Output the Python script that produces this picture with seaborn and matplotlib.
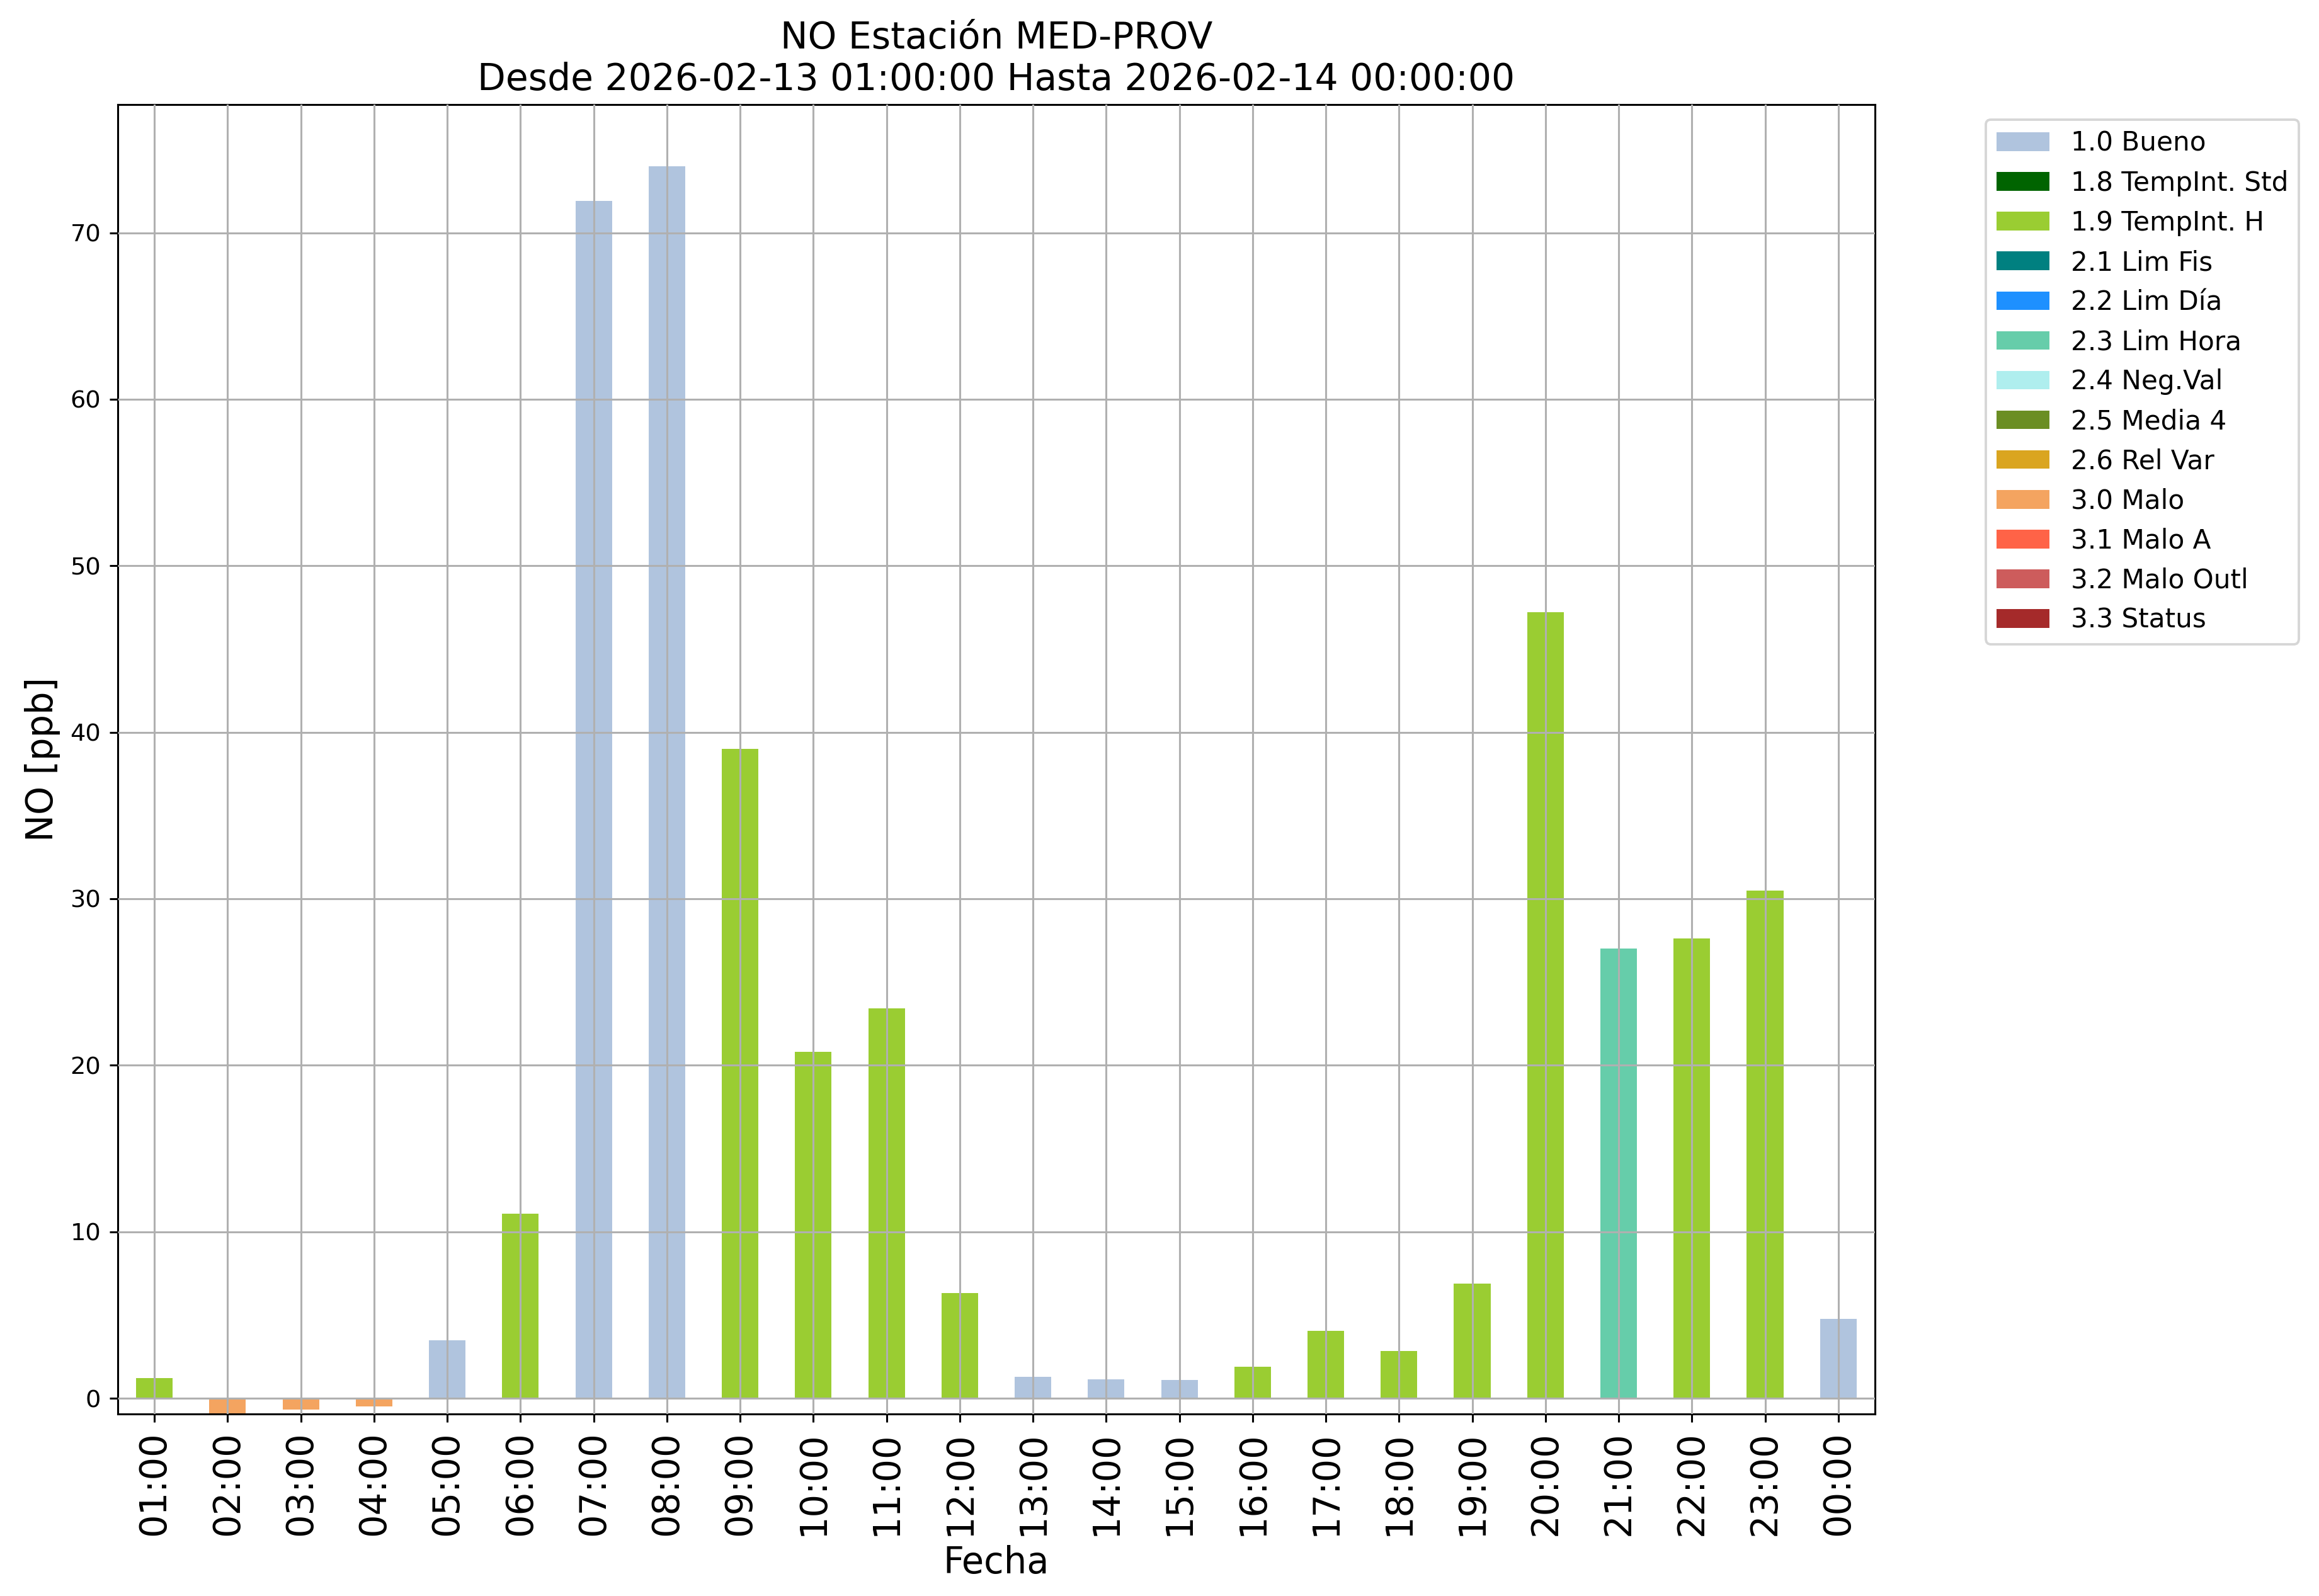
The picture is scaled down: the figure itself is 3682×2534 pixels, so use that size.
import matplotlib
matplotlib.use("Agg")
import matplotlib.pyplot as plt
from matplotlib.patches import Patch
import seaborn as sns
import pandas as pd

hours = ["01:00", "02:00", "03:00", "04:00", "05:00", "06:00", "07:00", "08:00",
         "09:00", "10:00", "11:00", "12:00", "13:00", "14:00", "15:00", "16:00",
         "17:00", "18:00", "19:00", "20:00", "21:00", "22:00", "23:00", "00:00"]
values = [1.22, -0.95, -0.67, -0.48, 3.49, 11.1, 71.9, 74.0,
          39.0, 20.8, 23.4, 6.3, 1.29, 1.13, 1.10, 1.89,
          4.05, 2.84, 6.89, 47.2, 27.0, 27.6, 30.5, 4.77]
flags = ["1.9 TempInt. H", "3.0 Malo", "3.0 Malo", "3.0 Malo", "1.0 Bueno", "1.9 TempInt. H",
         "1.0 Bueno", "1.0 Bueno", "1.9 TempInt. H", "1.9 TempInt. H", "1.9 TempInt. H",
         "1.9 TempInt. H", "1.0 Bueno", "1.0 Bueno", "1.0 Bueno", "1.9 TempInt. H",
         "1.9 TempInt. H", "1.9 TempInt. H", "1.9 TempInt. H", "1.9 TempInt. H",
         "2.3 Lim Hora", "1.9 TempInt. H", "1.9 TempInt. H", "1.0 Bueno"]

flag_labels = ["1.0 Bueno", "1.8 TempInt. Std", "1.9 TempInt. H", "2.1 Lim Fis",
               "2.2 Lim Día", "2.3 Lim Hora", "2.4 Neg.Val", "2.5 Media 4",
               "2.6 Rel Var", "3.0 Malo", "3.1 Malo A", "3.2 Malo Outl", "3.3 Status"]
flag_colors = ["lightsteelblue", "darkgreen", "yellowgreen", "teal", "dodgerblue",
               "mediumaquamarine", "paleturquoise", "olivedrab", "goldenrod",
               "sandybrown", "tomato", "indianred", "brown"]

title = "NO Estación MED-PROV\nDesde 2026-02-13 01:00:00 Hasta 2026-02-14 00:00:00"

df = pd.DataFrame({"Fecha": hours, "NO": values, "flag": flags})
palette = dict(zip(flag_labels, flag_colors))
present = [f for f in flag_labels if f in set(flags)]

DPI = 276
fig = plt.figure(figsize=(3682 / DPI, 2534 / DPI), dpi=DPI)
ax = fig.add_axes([0.0508, 0.1140, 0.8085 - 0.0508, 0.9345 - 0.1140])

sns.barplot(data=df, x="Fecha", y="NO", hue="flag", hue_order=present,
            palette=palette, order=hours, dodge=False, width=0.5,
            saturation=1, errorbar=None, legend=False, ax=ax)

ax.set_xlim(-0.5, len(hours) - 0.5)
ax.set_ylim(min(values), max(values) * 1.05)
ax.set_axisbelow(False)
ax.grid(True, color="#b0b0b0", linewidth=0.8)
ax.set_yticks(range(0, 80, 10))
ax.tick_params(axis="y", labelsize=10)
ax.tick_params(axis="x", labelsize=15, rotation=90)
ax.set_xlabel("Fecha", fontsize=15)
ax.set_ylabel("NO [ppb]", fontsize=15)
ax.set_title(title, fontsize=15.2)
for s in ax.spines.values():
    s.set_color("black")
    s.set_linewidth(0.8)

handles = [Patch(facecolor=c, edgecolor="none", label=l) for l, c in zip(flag_labels, flag_colors)]
ax.legend(handles=handles, loc="upper left", bbox_to_anchor=(1.0631, 0.9885),
          borderaxespad=0, fontsize=11, labelspacing=0.5, frameon=True)

fig.savefig("out.png", dpi=DPI)
